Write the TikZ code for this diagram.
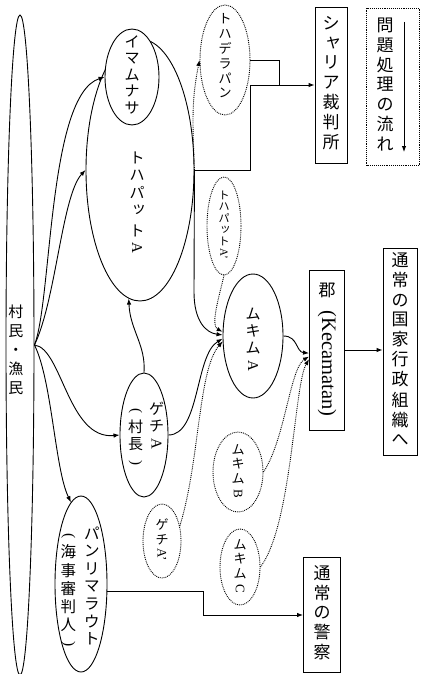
\documentclass[tikz,border=0pt]{standalone}
\usepackage{fontspec}
\usepackage{graphicx}
\setmainfont{Liberation Serif}
\newfontfamily\jp{Noto Sans CJK JP}
\usetikzlibrary{shapes.geometric,arrows.meta,calc}
\newcommand\vt[1]{\begin{tabular}[t]{@{}c@{}}#1\end{tabular}}
\newcommand\rotlat[1]{{\rmfamily\rotatebox[origin=c]{-90}{#1}}}
\newcommand\sk[1]{\makebox[1em][l]{\hspace{0.12em}\raisebox{0.12em}{#1}}}
\begin{document}
\begin{tikzpicture}[x=1pt,y=-1pt,
  ell/.style={draw, ellipse, line width=0.9pt, inner sep=0pt, fill=white},
  dell/.style={ell, densely dotted},
  box/.style={draw, rectangle, line width=0.9pt, inner sep=0pt, fill=white},
  bigT/.style={font=\jp\fontsize{17}{19.5}\selectfont, inner sep=0pt},
  midT/.style={font=\jp\fontsize{15}{17}\selectfont, inner sep=0pt},
  smT/.style={font=\jp\fontsize{13}{14.5}\selectfont, inner sep=0pt},
  arr/.style={-{Latex[length=6pt,width=4.5pt]}, line width=0.9pt},
  darr/.style={arr, densely dotted}]
\useasboundingbox (0,0) rectangle (429,674);
\fill[white] (0,0) rectangle (429,674);

% villagers
\node[ell, minimum width=28pt, minimum height=660pt] (vill) at (20,345) {};
\node[midT, font=\jp\fontsize{15}{19}\selectfont] (villT) at (16,352) {\vt{村\\民\\・\\漁\\民}};

% tuha peuet and imam
\node[ell, minimum width=108pt, minimum height=262pt] (tuha) at (140,170) {};
\node[ell, minimum width=54pt, minimum height=96pt] (imam) at (132,77) {};
\node[midT, font=\jp\fontsize{15}{16.5}\selectfont] (imamT) at (132,77) {\vt{イ\\マ\\ム\\ナ\\サ}};
\node[midT] (tuhaT) at (137,205) {\vt{ト\\ハ\\パ\\\sk{ッ}\\[4pt]ト\\\rotlat{A}}};

% gechi
\node[ell, minimum width=48pt, minimum height=124pt] (gechi) at (144,435) {};
\node[midT] (gechiT) at (146,437) {\vt{\rotlat{(}\\村\\長\\\rotlat{)}}\hspace{6pt}\vt{ゲ\\チ\\\rotlat{A}}};

% panglima laot
\node[ell, minimum width=52pt, minimum height=176pt] (panli) at (81,584) {};
\node[midT, font=\jp\fontsize{15.5}{17.5}\selectfont] (panliT) at (80,590) {\vt{\rotlat{(}\\海\\事\\審\\判\\人\\\rotlat{)}}\hspace{8pt}\vt{パ\\ン\\リ\\マ\\ラ\\ウ\\ト}};

% mukim A
\node[ell, minimum width=60pt, minimum height=124pt] (mukimA) at (253,336) {};
\node[midT] (mukimAT) at (253,342) {\vt{ム\\キ\\ム\\\rotlat{A}}};

% dotted ellipses
\node[dell, minimum width=50pt, minimum height=110pt] (tdl) at (225,60) {};
\node[smT] (tdlT) at (225,58) {\vt{ト\\ハ\\デ\\ラ\\パ\\ン}};
\node[dell, minimum width=34pt, minimum height=98pt] (tpa2) at (224,226) {};
\node[smT, font=\jp\fontsize{11}{10.5}\selectfont] (tpa2T) at (224,226) {\vt{ト\\ハ\\パ\\\sk{ッ}\\ト\\\rotlat{A'}}};
\node[dell, minimum width=50pt, minimum height=80pt] (mukimB) at (238,472) {};
\node[smT] (mukimBT) at (238,473) {\vt{ム\\キ\\ム\\\rotlat{B}}};
\node[dell, minimum width=40pt, minimum height=76pt] (mukimC) at (240,567) {};
\node[smT] (mukimCT) at (240,568) {\vt{ム\\キ\\ム\\\rotlat{C}}};
\node[dell, minimum width=38pt, minimum height=74pt] (gechi2) at (162,541) {};
\node[smT] (gechi2T) at (162,541) {\vt{ゲ\\チ\\\rotlat{A'}}};

% boxes
\node[box, bigT, minimum width=32pt, minimum height=156pt] (syariah) at (331,85) {\vt{シ\\\sk{ャ}\\リ\\ア\\裁\\判\\所}};
\node[box, densely dotted, minimum width=53pt, minimum height=157pt] (legend) at (393,87) {};
\node[bigT] (legT) at (385,87) {\vt{問\\題\\処\\理\\の\\流\\れ}};
\coordinate (la) at (404,22);
\coordinate (lb) at (404,152);
\node[box, bigT, minimum width=35pt, minimum height=160pt] (gun) at (327,350) {\vt{郡\\[8pt]{\fontsize{20.5}{22}\selectfont\rotlat{(Kecamatan)}}}};
\node[box, bigT, minimum width=34pt, minimum height=207pt] (nat) at (400,352) {\vt{通\\常\\の\\国\\家\\行\\政\\組\\織\\へ}};
\node[box, bigT, minimum width=37pt, minimum height=115pt] (police) at (322,615) {\vt{通\\常\\の\\警\\察}};

% connectors
\draw[arr] (vill.east) .. controls (52,300) and (48,95) .. (imam.west);
\draw[arr] (vill.east) .. controls (56,300) and (62,195) .. (tuha.west);
\draw[arr] (vill.east) .. controls (62,348) and (68,440) .. (gechi.west);
\draw[arr] (vill.east) .. controls (52,380) and (55,470) .. (panli.97);
\draw[arr] (gechi.north) .. controls (146,345) and (130,330) .. (tuha.265);
\draw[arr] (gechi.east) .. controls (200,435) and (195,355) .. (mukimA.185);
\draw[arr] (tuha.east) -- (194,292) .. controls +(0,30) and +(-16,-2) .. (mukimA.178);
\draw[arr] (tuha.east) -- ++(56,0) |- (syariah.west);
\draw[line width=0.9pt] (tdl.east) -| ($(syariah.west)+(-35,0)$);
\draw[darr] (tuha.east) .. controls +(-2,-50) and +(-8,40) .. (tdl.west);
\draw[darr] (tpa2.south) .. controls +(-6,25) and +(-12,-6) .. (mukimA.172);
\draw[darr] (gechi2.40) .. controls (200,460) and (198,370) .. (mukimA.190);
\draw[arr] (mukimA.east) .. controls (298,336) and (296,352) .. (gun.190);
\draw[darr] (mukimB.east) .. controls (285,440) and (290,368) .. (gun.200);
\draw[darr] (mukimC.east) .. controls (292,525) and (294,385) .. (gun.207);
\draw[arr] (gun.east) -- (gun.east -| nat.west);
\draw[arr] (panli.-15) -- ++(96,0) |- (police.west);
\draw[arr] (la) -- (lb);
\end{tikzpicture}
\end{document}
